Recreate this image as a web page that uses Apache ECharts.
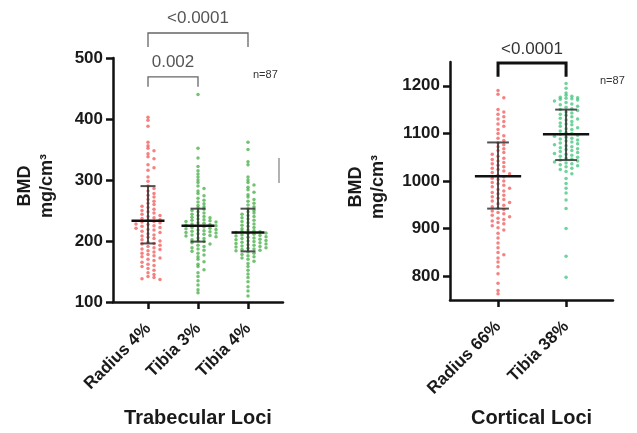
<!DOCTYPE html>
<html><head><meta charset="utf-8">
<script src="https://cdn.jsdelivr.net/npm/echarts@6/dist/echarts.min.js"></script>
<style>html,body{margin:0;padding:0;background:#fff}#c{width:637px;height:433px}</style>
</head><body><div id="c"></div>
<script>
// ---- data ----
const trabCategories = ['Radius 4%', 'Tibia 3%', 'Tibia 4%'];
const cortCategories = ['Radius 66%', 'Tibia 38%'];
const radius4 = [403,398,388,362,356,352,348,343,338,335,325,320,316,305,298,290,286,282,278,275,272,268,265,262,260,257,255,252,250,248,246,244,242,240,238,237,235,234,232,231,230,228,227,225,224,222,221,219,218,216,214,212,210,208,206,204,202,200,198,196,195,193,191,189,187,186,184,182,180,178,176,174,172,170,168,165,162,160,158,155,152,148,145,142,140,138,137];
const tibia3 = [440,352,336,322,315,310,305,300,296,290,286,282,278,274,270,267,264,261,258,256,254,252,250,248,246,244,242,240,239,238,236,235,234,233,232,231,230,229,228,227,226,225,224,223,222,221,220,219,218,217,216,215,214,213,212,211,210,209,208,207,205,204,202,200,199,197,195,193,191,189,187,185,183,180,177,174,170,166,162,158,153,148,142,135,128,120,115];
const tibia4 = [362,350,330,325,305,300,296,292,288,284,280,276,272,268,265,262,259,256,253,250,248,246,244,242,240,238,236,234,232,230,228,226,224,222,220,218,217,216,215,214,213,212,211,210,209,208,207,206,205,204,203,202,201,200,199,198,197,196,195,194,193,192,191,190,189,188,187,186,185,184,182,180,178,176,174,172,170,167,163,158,152,146,140,133,125,118,110];
const radius66 = [1190,1182,1175,1150,1145,1140,1135,1130,1125,1120,1115,1108,1100,1095,1090,1085,1080,1076,1072,1068,1064,1060,1056,1052,1048,1045,1042,1039,1036,1033,1030,1027,1024,1021,1018,1015,1012,1009,1006,1003,1000,997,994,991,988,985,982,979,976,973,970,967,964,961,958,955,952,949,946,943,940,937,934,931,928,925,922,919,916,913,910,906,902,897,890,880,870,860,850,845,838,830,820,805,785,770,763];
const tibia38 = [1205,1195,1185,1180,1178,1176,1175,1174,1173,1172,1170,1168,1165,1162,1160,1157,1155,1152,1150,1148,1145,1143,1140,1138,1135,1132,1130,1128,1125,1122,1120,1118,1115,1112,1110,1108,1105,1102,1100,1098,1096,1094,1092,1090,1088,1086,1084,1082,1080,1078,1076,1074,1072,1070,1068,1066,1064,1062,1060,1058,1056,1054,1052,1050,1048,1046,1044,1042,1040,1038,1036,1034,1032,1030,1027,1024,1020,1015,1005,995,985,975,960,942,900,842,798];
const trabMeans = [233, 225, 214];
const trabSdLow = [196, 199, 183];
const trabSdHigh = [290, 253, 253];
const cortMeans = [1010, 1098];
const cortSdLow = [942, 1044];
const cortSdHigh = [1081, 1150];
const trabTicks = [100, 200, 300, 400, 500];
const cortTicks = [800, 900, 1000, 1100, 1200];
// brackets: [from, to, level, drop, label]
const trabBrackets = [[0, 1, 469, 453, '0.002'], [0, 2, 541, 518, '<0.0001']];
const cortBrackets = [[0, 1, 1248, 1219, '<0.0001']];

const FONT = '"Liberation Sans", Arial, Helvetica, sans-serif';
const RED = 'rgba(240,70,70,0.85)';
const GREEN_L = 'rgba(50,165,50,0.85)';
const GREEN_R = 'rgba(45,190,110,0.85)';

function swarm(values, idx, bin, step) {
  const rows = {};
  return values.map(v => {
    const b = Math.round(v / bin);
    const n = rows[b] = (rows[b] || 0) + 1;
    const k = n - 1;
    const off = k === 0 ? 0 : (k % 2 ? Math.ceil(k / 2) : -k / 2) * step;
    return [idx + off, v];
  });
}

function errRender(meanHalf, capHalf) {
  return function (params, api) {
    const x = api.value(0);
    const pm = api.coord([x, api.value(1)]);
    const pl = api.coord([x, api.value(2)]);
    const ph = api.coord([x, api.value(3)]);
    const mw = api.size([meanHalf, 0])[0];
    const cw = api.size([capHalf, 0])[0];
    const es = { stroke: 'rgba(50,50,50,0.85)', lineWidth: 2 };
    return { type: 'group', children: [
      { type: 'line', shape: { x1: pl[0], y1: pl[1], x2: ph[0], y2: ph[1] }, style: es },
      { type: 'line', shape: { x1: pl[0] - cw, y1: pl[1], x2: pl[0] + cw, y2: pl[1] }, style: es },
      { type: 'line', shape: { x1: ph[0] - cw, y1: ph[1], x2: ph[0] + cw, y2: ph[1] }, style: es },
      { type: 'line', shape: { x1: pm[0] - mw, y1: pm[1], x2: pm[0] + mw, y2: pm[1] }, style: { stroke: '#111', lineWidth: 2.5 } }
    ]};
  };
}

function bracketRender(color, width, textColor, textGap) {
  return function (params, api) {
    const a = api.coord([api.value(0), api.value(2)]);
    const b = api.coord([api.value(1), api.value(2)]);
    const d = api.coord([api.value(0), api.value(3)]);
    return { type: 'group', children: [
      { type: 'polyline', shape: { points: [[a[0], d[1]], [a[0], a[1]], [b[0], a[1]], [b[0], d[1]]] },
        style: { stroke: color, lineWidth: width, fill: null } },
      { type: 'text', x: (a[0] + b[0]) / 2, y: a[1] - textGap,
        style: { text: api.value(4), fill: textColor, font: '17px ' + FONT, align: 'center', verticalAlign: 'middle' } }
    ]};
  };
}

function yAxis(grid, min, max, ticks, gap) {
  return {
    type: 'value', gridIndex: grid, min: min, max: max,
    splitLine: { show: false },
    axisLine: { show: true, onZero: false, lineStyle: { color: '#111', width: 2.5 } },
    axisTick: { show: true, length: 7, lineStyle: { color: '#111', width: 2.5 }, customValues: ticks },
    axisLabel: { customValues: ticks, margin: 10, formatter: v => String(v), color: '#1a1a1a', fontSize: 17, fontWeight: 'bold', fontFamily: FONT },
    name: 'BMD\nmg/cm³', nameLocation: 'middle', nameRotate: 90, nameGap: gap,
    nameTextStyle: { color: '#1a1a1a', fontSize: 18, fontWeight: 'bold', fontFamily: FONT, lineHeight: 22, padding: [0, 12, 0, 0] }
  };
}
function xAxis(grid, min, max, cats, name, gap) {
  const vals = cats.map((c, i) => i);
  return {
    type: 'value', gridIndex: grid, min: min, max: max,
    splitLine: { show: false },
    axisLine: { show: true, onZero: false, lineStyle: { color: '#111', width: 2.5 } },
    axisTick: { show: true, length: 7, lineStyle: { color: '#111', width: 2.5 }, customValues: vals },
    axisLabel: { customValues: vals, rotate: 45, margin: 24, formatter: v => cats[Math.round(v)],
      color: '#1a1a1a', fontSize: 17, fontWeight: 'bold', fontFamily: FONT },
    name: name, nameLocation: 'middle', nameGap: gap,
    nameTextStyle: { color: '#1a1a1a', fontSize: 20, fontWeight: 'bold', fontFamily: FONT }
  };
}

const chart = echarts.init(document.getElementById('c'), null, { renderer: 'canvas' });
chart.setOption({
  backgroundColor: '#fff',
  animation: false,
  grid: [
    { left: 113, top: 58, width: 170, height: 246 },
    { left: 450, top: 62, width: 163, height: 240 }
  ],
  xAxis: [
    xAxis(0, -0.7, 2.7, trabCategories, 'Trabecular Loci', 106),
    xAxis(1, -0.706, 1.69, cortCategories, 'Cortical Loci', 108)
  ],
  yAxis: [
    yAxis(0, 100, 500, trabTicks, 55),
    yAxis(1, 750, 1250, cortTicks, 61)
  ],
  series: [
    { type: 'scatter', xAxisIndex: 0, yAxisIndex: 0, symbolSize: 3.5, itemStyle: { color: RED }, data: swarm(radius4, 0, 7, 0.12) },
    { type: 'scatter', xAxisIndex: 0, yAxisIndex: 0, symbolSize: 3.5, itemStyle: { color: GREEN_L }, data: swarm(tibia3, 1, 6, 0.12) },
    { type: 'scatter', xAxisIndex: 0, yAxisIndex: 0, symbolSize: 3.5, itemStyle: { color: GREEN_L }, data: swarm(tibia4, 2, 6, 0.12) },
    { type: 'scatter', xAxisIndex: 1, yAxisIndex: 1, symbolSize: 3.5, itemStyle: { color: RED }, data: swarm(radius66, 0, 10, 0.085) },
    { type: 'scatter', xAxisIndex: 1, yAxisIndex: 1, symbolSize: 3.5, itemStyle: { color: GREEN_R }, data: swarm(tibia38, 1, 9, 0.085) },
    { type: 'custom', xAxisIndex: 0, yAxisIndex: 0, z: 5, clip: false, renderItem: errRender(0.33, 0.15),
      data: trabMeans.map((m, i) => [i, m, trabSdLow[i], trabSdHigh[i]]) },
    { type: 'custom', xAxisIndex: 1, yAxisIndex: 1, z: 5, clip: false, renderItem: errRender(0.34, 0.16),
      data: cortMeans.map((m, i) => [i, m, cortSdLow[i], cortSdHigh[i]]) },
    { type: 'custom', xAxisIndex: 0, yAxisIndex: 0, clip: false, renderItem: bracketRender('#666', 1.3, '#555', 15),
      dimensions: ['a', 'b', 'y', 'd', { name: 't', type: 'ordinal' }], data: trabBrackets },
    { type: 'custom', xAxisIndex: 1, yAxisIndex: 1, clip: false, renderItem: bracketRender('#111', 3, '#333', 14),
      dimensions: ['a', 'b', 'y', 'd', { name: 't', type: 'ordinal' }], data: cortBrackets }
  ],
  graphic: [
    { type: 'text', x: 253, y: 75, style: { text: 'n=87', fill: '#333', font: '11px ' + FONT, verticalAlign: 'middle' } },
    { type: 'text', x: 600, y: 81, style: { text: 'n=87', fill: '#333', font: '11px ' + FONT, verticalAlign: 'middle' } },
    { type: 'line', shape: { x1: 279, y1: 158, x2: 279, y2: 183 }, style: { stroke: '#999', lineWidth: 1.5 } }
  ]
});
</script></body></html>
